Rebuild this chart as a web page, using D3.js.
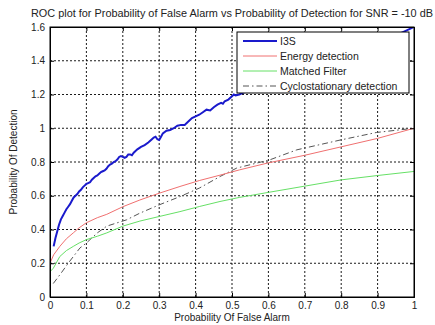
<!DOCTYPE html>
<html>
<head>
<meta charset="utf-8">
<script src="https://cdn.jsdelivr.net/npm/d3@7"></script>
<style>
  body { margin: 0; background: #fff; }
  svg { font-family: "Liberation Sans", Arial, sans-serif; }
</style>
</head>
<body>
<div id="chart"></div>
<script>
// ---------------------------
// Data
// ---------------------------
const xTicks = [0, 0.1, 0.2, 0.3, 0.4, 0.5, 0.6, 0.7, 0.8, 0.9, 1];
const yTicks = [0, 0.2, 0.4, 0.6, 0.8, 1, 1.2, 1.4, 1.6];

const i3s = [
  [0.01,0.30],[0.015,0.35],[0.02,0.39],[0.025,0.43],[0.03,0.46],[0.035,0.48],[0.04,0.50],[0.045,0.52],
  [0.05,0.535],[0.055,0.55],[0.06,0.57],[0.065,0.59],[0.07,0.60],[0.075,0.61],[0.08,0.625],[0.085,0.635],
  [0.09,0.65],[0.095,0.66],[0.10,0.67],[0.105,0.675],[0.11,0.68],[0.115,0.695],[0.12,0.705],[0.125,0.715],
  [0.13,0.72],[0.135,0.73],[0.14,0.74],[0.145,0.745],[0.15,0.75],[0.155,0.76],[0.16,0.775],[0.165,0.785],
  [0.17,0.79],[0.175,0.80],[0.18,0.805],[0.185,0.815],[0.19,0.83],[0.195,0.835],[0.20,0.83],[0.205,0.825],
  [0.21,0.83],[0.215,0.845],[0.22,0.845],[0.225,0.84],[0.23,0.855],[0.24,0.875],[0.25,0.89],[0.26,0.90],
  [0.27,0.915],[0.28,0.935],[0.285,0.945],[0.29,0.95],[0.295,0.935],[0.30,0.93],[0.305,0.95],[0.31,0.97],
  [0.32,0.985],[0.33,0.99],[0.34,1.0],[0.35,1.015],[0.36,1.02],[0.37,1.02],[0.38,1.04],[0.39,1.06],
  [0.40,1.07],[0.41,1.08],[0.42,1.095],[0.43,1.11],[0.44,1.105],[0.45,1.125],[0.46,1.14],[0.47,1.15],
  [0.475,1.145],[0.48,1.16],[0.49,1.17],[0.50,1.19],[0.505,1.20],[0.51,1.195],[0.52,1.20],[0.53,1.21],
  [0.55,1.23],[0.6,1.27],[0.7,1.35],[0.8,1.43],[0.9,1.51],[0.95,1.55],[0.98,1.58],[1.0,1.6]
];

const energy = [
  [0,0.20],[0.01,0.25],[0.027,0.30],[0.045,0.345],[0.064,0.38],[0.08,0.41],[0.10,0.44],[0.13,0.47],
  [0.156,0.49],[0.20,0.535],[0.247,0.575],[0.30,0.615],[0.357,0.655],[0.41,0.69],[0.467,0.722],
  [0.52,0.753],[0.6,0.795],[0.7,0.84],[0.8,0.89],[0.9,0.94],[1.0,1.0]
];

const matched = [
  [0,0.15],[0.009,0.17],[0.027,0.24],[0.045,0.275],[0.064,0.30],[0.08,0.32],[0.10,0.34],[0.13,0.36],
  [0.156,0.38],[0.20,0.42],[0.247,0.45],[0.30,0.477],[0.357,0.506],[0.41,0.536],[0.467,0.566],
  [0.52,0.59],[0.6,0.62],[0.7,0.657],[0.8,0.694],[0.9,0.72],[1.0,0.744]
];

const cyclo = [
  [0.009,0.08],[0.03,0.14],[0.05,0.20],[0.082,0.29],[0.10,0.32],[0.13,0.38],[0.156,0.42],[0.21,0.457],
  [0.247,0.497],[0.30,0.546],[0.357,0.595],[0.41,0.645],[0.467,0.714],[0.513,0.764],[0.604,0.813],
  [0.678,0.872],[0.797,0.93],[0.897,0.975],[1.0,1.0]
];

const series = [
  { name: 'I3S', data: i3s, color: '#1a1acc', width: 2, dash: null },
  { name: 'Energy detection', data: energy, color: '#f07070', width: 1, dash: null },
  { name: 'Matched Filter', data: matched, color: '#66e066', width: 1, dash: null },
  { name: 'Cyclostationary detection', data: cyclo, color: '#555', width: 1, dash: '6,3,1.5,3' }
];

// ---------------------------
// Layout
// ---------------------------
const width = 435, height = 325;
const margin = { top: 27, right: 21, bottom: 28, left: 50 };
const innerW = width - margin.left - margin.right;
const innerH = height - margin.top - margin.bottom;

const svg = d3.select('#chart').append('svg')
  .attr('width', width)
  .attr('height', height);

const x = d3.scaleLinear().domain([0, 1]).range([0, innerW]);
const y = d3.scaleLinear().domain([0, 1.6]).range([innerH, 0]);

const g = svg.append('g').attr('transform', `translate(${margin.left},${margin.top})`);

// grid
g.append('g').selectAll('line').data(xTicks.slice(1, -1)).join('line')
  .attr('x1', d => x(d)).attr('x2', d => x(d))
  .attr('y1', 0).attr('y2', innerH)
  .attr('stroke', '#000').attr('stroke-width', 0.9).attr('stroke-dasharray', '2,2');
g.append('g').selectAll('line').data(yTicks.slice(1, -1)).join('line')
  .attr('y1', d => y(d)).attr('y2', d => y(d))
  .attr('x1', 0).attr('x2', innerW)
  .attr('stroke', '#000').attr('stroke-width', 0.9).attr('stroke-dasharray', '2,2');

// curves
const line = d3.line().x(d => x(d[0])).y(d => y(d[1]));
g.append('clipPath').attr('id', 'clip').append('rect')
  .attr('width', innerW).attr('height', innerH);

series.slice().reverse().forEach(s => {
  g.append('path')
    .datum(s.data)
    .attr('d', line)
    .attr('fill', 'none')
    .attr('stroke', s.color)
    .attr('stroke-width', s.width)
    .attr('stroke-dasharray', s.dash)
    .attr('clip-path', 'url(#clip)');
});

// axes
const xAxis = d3.axisBottom(x).tickValues(xTicks).tickSize(-4).tickPadding(5).tickFormat(d3.format('~g'));
const yAxis = d3.axisLeft(y).tickValues(yTicks).tickSize(-4).tickPadding(5).tickFormat(d3.format('~g'));

g.append('g').attr('transform', `translate(0,${innerH})`).call(xAxis);
g.append('g').call(yAxis);
g.append('g').call(d3.axisTop(x).tickValues(xTicks).tickSize(-4).tickFormat(''));
g.append('g').attr('transform', `translate(${innerW},0)`).call(d3.axisRight(y).tickValues(yTicks).tickSize(-4).tickFormat(''));

g.selectAll('.domain').attr('stroke', '#000');
g.selectAll('.tick line').attr('stroke', '#000');
g.selectAll('.tick text').attr('fill', '#222').style('font-size', '10px');

// frame
g.append('rect').attr('width', innerW).attr('height', innerH)
  .attr('fill', 'none').attr('stroke', '#000').attr('stroke-width', 1);

// ---------------------------
// Texts
// ---------------------------
svg.append('text')
  .attr('x', 232).attr('y', 17)
  .attr('text-anchor', 'middle')
  .style('font-size', '10px').attr('fill', '#222')
  .attr('textLength', 402).attr('lengthAdjust', 'spacingAndGlyphs')
  .text('ROC plot for Probability of False Alarm vs Probability of Detection for SNR = -10 dB');

svg.append('text')
  .attr('x', margin.left + innerW / 2).attr('y', 321)
  .attr('text-anchor', 'middle')
  .style('font-size', '10px').attr('fill', '#222')
  .text('Probability Of False Alarm');

svg.append('text')
  .attr('transform', `translate(17,${margin.top + innerH / 2}) rotate(-90)`)
  .attr('text-anchor', 'middle')
  .style('font-size', '10px').attr('fill', '#222')
  .text('Probability Of Detection');

// ---------------------------
// Legend
// ---------------------------
const legend = svg.append('g').attr('transform', 'translate(237,32)');
legend.append('rect').attr('width', 172).attr('height', 61)
  .attr('fill', '#fff').attr('stroke', '#000').attr('stroke-width', 1);

series.forEach((s, i) => {
  const row = legend.append('g').attr('transform', `translate(0,${9 + i * 15})`);
  row.append('line').attr('x1', 6).attr('x2', 40).attr('y1', 0).attr('y2', 0)
    .attr('stroke', s.color).attr('stroke-width', s.width).attr('stroke-dasharray', s.dash);
  row.append('text').attr('x', 43).attr('y', 3.5)
    .style('font-size', '10.5px').attr('fill', '#222')
    .text(s.name);
});
</script>
</body>
</html>
